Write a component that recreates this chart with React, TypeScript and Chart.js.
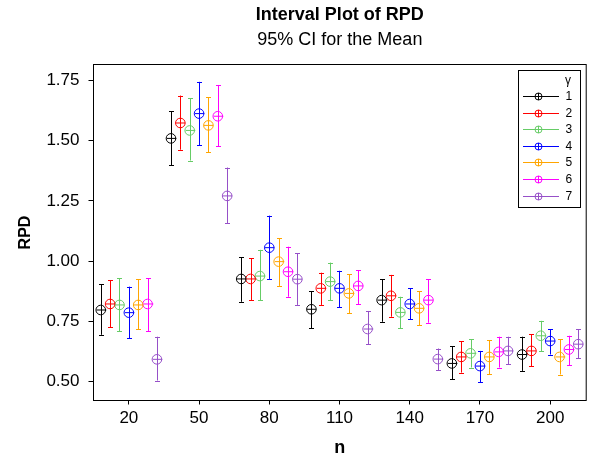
import React, { useEffect, useRef } from 'react';
import { Chart, registerables } from 'chart.js';

Chart.register(...registerables);

// ---- data ----
const groups = [20, 50, 80, 110, 140, 170, 200];
const gammaLabels = ['1', '2', '3', '4', '5', '6', '7'];
const xTicks = [20, 50, 80, 110, 140, 170, 200];
const yTicks = [0.5, 0.75, 1.0, 1.25, 1.5, 1.75];

const mean1 = [0.797, 1.510, 0.926, 0.800, 0.838, 0.575, 0.612];
const lower1 = [0.694, 1.399, 0.831, 0.721, 0.748, 0.510, 0.544];
const upper1 = [0.905, 1.622, 1.017, 0.876, 0.925, 0.647, 0.686];

const mean2 = [0.822, 1.574, 0.926, 0.887, 0.856, 0.602, 0.627];
const lower2 = [0.725, 1.463, 0.838, 0.818, 0.769, 0.537, 0.564];
const upper2 = [0.920, 1.688, 1.012, 0.952, 0.943, 0.668, 0.696];

const mean3 = [0.818, 1.543, 0.938, 0.915, 0.787, 0.617, 0.690];
const lower3 = [0.709, 1.418, 0.838, 0.838, 0.721, 0.558, 0.626];
const upper3 = [0.929, 1.677, 1.047, 0.994, 0.852, 0.676, 0.752];

const mean4 = [0.786, 1.613, 1.056, 0.887, 0.822, 0.564, 0.668];
const lower4 = [0.680, 1.481, 0.926, 0.808, 0.759, 0.496, 0.612];
const upper4 = [0.894, 1.745, 1.189, 0.960, 0.887, 0.627, 0.716];

const mean5 = [0.818, 1.564, 0.998, 0.866, 0.804, 0.602, 0.602];
const lower5 = [0.716, 1.453, 0.897, 0.783, 0.734, 0.530, 0.529];
const upper5 = [0.925, 1.681, 1.095, 0.945, 0.876, 0.672, 0.676];

const mean6 = [0.822, 1.602, 0.956, 0.897, 0.838, 0.623, 0.633];
const lower6 = [0.709, 1.477, 0.852, 0.822, 0.744, 0.558, 0.568];
const upper6 = [0.929, 1.732, 1.060, 0.963, 0.925, 0.686, 0.690];

const mean7 = [0.592, 1.271, 0.925, 0.718, 0.593, 0.627, 0.655];
const lower7 = [0.504, 1.158, 0.818, 0.654, 0.547, 0.572, 0.596];
const upper7 = [0.686, 1.389, 1.033, 0.793, 0.637, 0.686, 0.716];

const means = [mean1, mean2, mean3, mean4, mean5, mean6, mean7];
const lowers = [lower1, lower2, lower3, lower4, lower5, lower6, lower7];
const uppers = [upper1, upper2, upper3, upper4, upper5, upper6, upper7];

// ---- styles ----
const colors = ['#000000', '#FF0000', '#66CC66', '#0000FF', '#FFA500', '#FF00FF', '#9650C8'];
const FONT = '"Liberation Sans", Arial, sans-serif';
const DODGE = 4; // n-units between neighbouring gamma values inside a group
const R = 4.8;

const intervalPlugin = {
  id: 'intervalPlugin',
  afterDatasetsDraw(chart: any) {
    const ctx = chart.ctx;
    const yScale = chart.scales.y;
    ctx.save();
    ctx.lineWidth = 1;
    chart.data.datasets.forEach((ds: any, i: number) => {
      const meta = chart.getDatasetMeta(i);
      ctx.strokeStyle = colors[i];
      meta.data.forEach((pt: any, j: number) => {
        const x = Math.round(pt.x) + 0.5;
        const yHi = yScale.getPixelForValue(uppers[i][j]);
        const yLo = yScale.getPixelForValue(lowers[i][j]);
        ctx.beginPath();
        ctx.moveTo(x, yHi);
        ctx.lineTo(x, yLo);
        ctx.moveTo(x - 2.5, Math.round(yHi) + 0.5);
        ctx.lineTo(x + 2.5, Math.round(yHi) + 0.5);
        ctx.moveTo(x - 2.5, Math.round(yLo) + 0.5);
        ctx.lineTo(x + 2.5, Math.round(yLo) + 0.5);
        ctx.moveTo(x - R, pt.y);
        ctx.lineTo(x + R, pt.y);
        ctx.stroke();
      });
    });
    ctx.restore();
  },
  afterDraw(chart: any) {
    const ctx = chart.ctx;
    const a = chart.chartArea;
    ctx.save();
    // frame
    ctx.strokeStyle = '#000';
    ctx.lineWidth = 1;
    ctx.strokeRect(a.left, a.top, a.right - a.left, a.bottom - a.top);
    // titles
    const cx = (a.left + a.right) / 2;
    ctx.fillStyle = '#000';
    ctx.textAlign = 'center';
    ctx.textBaseline = 'middle';
    ctx.font = `bold 18px ${FONT}`;
    ctx.fillText('Interval Plot of RPD', cx, 15);
    ctx.font = `18px ${FONT}`;
    ctx.fillText('95% CI for the Mean', cx, 40);
    // legend
    ctx.strokeRect(518.5, 70.5, 62, 137);
    ctx.font = `12px ${FONT}`;
    ctx.textAlign = 'left';
    ctx.fillText('γ', 565, 81);
    gammaLabels.forEach((lab, i) => {
      const y = Math.round(96 + i * 16.6) + 0.5;
      ctx.strokeStyle = colors[i];
      ctx.beginPath();
      ctx.moveTo(523, y);
      ctx.lineTo(559, y);
      ctx.stroke();
      ctx.beginPath();
      ctx.arc(538.5, y, 3.5, 0, Math.PI * 2);
      ctx.moveTo(538.5, y - 3.5);
      ctx.lineTo(538.5, y + 3.5);
      ctx.stroke();
      ctx.fillStyle = '#000';
      ctx.fillText(lab, 565.5, y + 0.5);
    });
    ctx.restore();
  },
};

export default function App() {
  const ref = useRef<HTMLCanvasElement>(null);
  useEffect(() => {
    if (!ref.current) return;
    const datasets = means.map((m, i) => ({
      label: gammaLabels[i],
      data: m.map((v, j) => ({ x: groups[j] + (i - 3) * DODGE, y: v })),
      borderColor: colors[i],
      backgroundColor: 'rgba(0,0,0,0)',
      pointStyle: 'circle',
      pointRadius: R,
      borderWidth: 1,
      showLine: false,
    }));
    const chart = new Chart(ref.current, {
      type: 'scatter',
      data: { datasets },
      options: {
        responsive: false,
        animation: false,
        layout: { padding: { top: 64.5, right: 2.5, left: 0, bottom: 0 } },
        plugins: {
          legend: { display: false },
          tooltip: { enabled: false },
          title: { display: false },
        },
        scales: {
          x: {
            type: 'linear',
            min: 4.9,
            max: 215.4,
            afterFit: (s: any) => { s.height = 56.5; },
            afterBuildTicks: (s: any) => { s.ticks = xTicks.map((v) => ({ value: v })); },
            grid: { drawOnChartArea: false, drawTicks: true, tickLength: 4, tickColor: '#000' },
            border: { display: false },
            ticks: {
              color: '#000',
              font: { family: FONT, size: 17 },
              padding: 4,
              maxRotation: 0,
              autoSkip: false,
              callback: (v: any) => String(v),
            },
            title: {
              display: true,
              text: 'n',
              color: '#000',
              font: { family: FONT, size: 18, weight: 'bold' },
              padding: { top: 0, bottom: -2 },
            },
          },
          y: {
            type: 'linear',
            min: 0.421,
            max: 1.817,
            afterFit: (s: any) => { s.width = 93.5; },
            afterBuildTicks: (s: any) => { s.ticks = yTicks.map((v) => ({ value: v })); },
            grid: { drawOnChartArea: false, drawTicks: true, tickLength: 5, tickColor: '#000' },
            border: { display: false },
            ticks: {
              color: '#000',
              font: { family: FONT, size: 17 },
              padding: 9,
              autoSkip: false,
              callback: (v: any) => Number(v).toFixed(2),
            },
            title: {
              display: true,
              text: 'RPD',
              color: '#000',
              font: { family: FONT, size: 16, weight: 'bold' },
              padding: { top: 16, bottom: 0 },
            },
          },
        },
      },
      plugins: [intervalPlugin],
    } as any);
    return () => chart.destroy();
  }, []);
  return (
    <div style={{ position: 'absolute', left: 0, top: 0, width: 592, height: 457, background: '#fff' }}>
      <canvas ref={ref} width={592} height={457} style={{ width: 592, height: 457, display: 'block' }} />
    </div>
  );
}
